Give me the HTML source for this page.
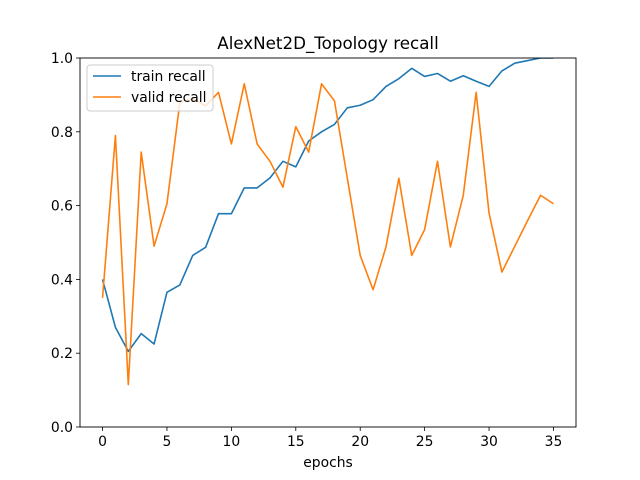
<!DOCTYPE html>
<html><head><meta charset="utf-8"><style>body{margin:0;background:#fff}svg{display:block;font-family:"DejaVu Sans","Liberation Sans",sans-serif}</style></head>
<body>
<svg id="chart" width="640" height="480">
<text x="328" y="49" text-anchor="middle" font-size="16.7">AlexNet2D_Topology recall</text>
<g id="plot"></g>
<rect x="80" y="58" width="496" height="369" fill="none" stroke="#000" stroke-width="0.9"/>
<text x="328" y="467" text-anchor="middle" font-size="13.9">epochs</text>
<g>
<rect x="87" y="65" width="126" height="46" rx="3" fill="#fff" fill-opacity="0.8" stroke="#ccc"/>
<line x1="93" y1="76" x2="121" y2="76" stroke="#1f77b4" stroke-width="1.6"/>
<text x="131" y="81" font-size="13.9">train recall</text>
<line x1="93" y1="97" x2="121" y2="97" stroke="#ff7f0e" stroke-width="1.6"/>
<text x="131" y="102" font-size="13.9">valid recall</text>
</g>
</svg>
<script>
const trainRecall=[0.40,0.27,0.205,0.253,0.225,0.365,0.385,0.465,0.487,0.578,0.578,0.648,0.648,0.675,0.72,0.705,0.775,0.80,0.82,0.865,0.872,0.887,0.923,0.944,0.972,0.95,0.958,0.937,0.952,0.937,0.923,0.965,0.986,0.993,1.0,1.0];
const validRecall=[0.35,0.79,0.115,0.745,0.49,0.605,0.88,0.89,0.87,0.907,0.767,0.93,0.767,0.72,0.65,0.814,0.745,0.93,0.884,0.674,0.465,0.372,0.488,0.674,0.465,0.535,0.72,0.488,0.628,0.907,0.58,0.42,0.49,0.56,0.628,0.605];
const xTicks=[0,5,10,15,20,25,30,35];
const yTicks=[0.0,0.2,0.4,0.6,0.8,1.0];
const L=80,R=576,T=58,B=427,xMin=-1.75,xMax=36.75;
const xs=v=>L+(v-xMin)/(xMax-xMin)*(R-L);
const ys=v=>B-v*(B-T);
const NS="http://www.w3.org/2000/svg";
const plot=document.getElementById('plot');
function mk(tag,attrs){const e=document.createElementNS(NS,tag);for(const k in attrs)e.setAttribute(k,attrs[k]);return e;}
const clip=mk('clipPath',{id:'c'});clip.appendChild(mk('rect',{x:L,y:T,width:R-L,height:B-T}));plot.appendChild(clip);
xTicks.forEach(t=>{
  const l=mk('line',{x1:xs(t),x2:xs(t),y1:B,y2:B+4,stroke:'#000','stroke-width':0.8});
  
  
  plot.appendChild(l);
  const tx=mk('text',{x:xs(t),y:B+19,'text-anchor':'middle','font-size':13.9});tx.textContent=t;
  
  
  plot.appendChild(tx);
});
yTicks.forEach(t=>{
  const l=mk('line',{x1:L-4,x2:L,y1:ys(t),y2:ys(t),stroke:'#000','stroke-width':0.8});
  
  
  plot.appendChild(l);
  const tx=mk('text',{x:L-7,y:ys(t)+5,'text-anchor':'end','font-size':13.9});tx.textContent=t.toFixed(1);
  
  
  plot.appendChild(tx);
});
function line(data,color,name){
  const p=mk('polyline',{points:data.map((v,i)=>xs(i)+','+ys(v)).join(' '),fill:'none',stroke:color,'stroke-width':1.6,'clip-path':'url(#c)','stroke-linejoin':'round'});
  
  
  plot.appendChild(p);
}
line(trainRecall,'#1f77b4','train-recall-line');
line(validRecall,'#ff7f0e','valid-recall-line');
</script>
</body></html>
